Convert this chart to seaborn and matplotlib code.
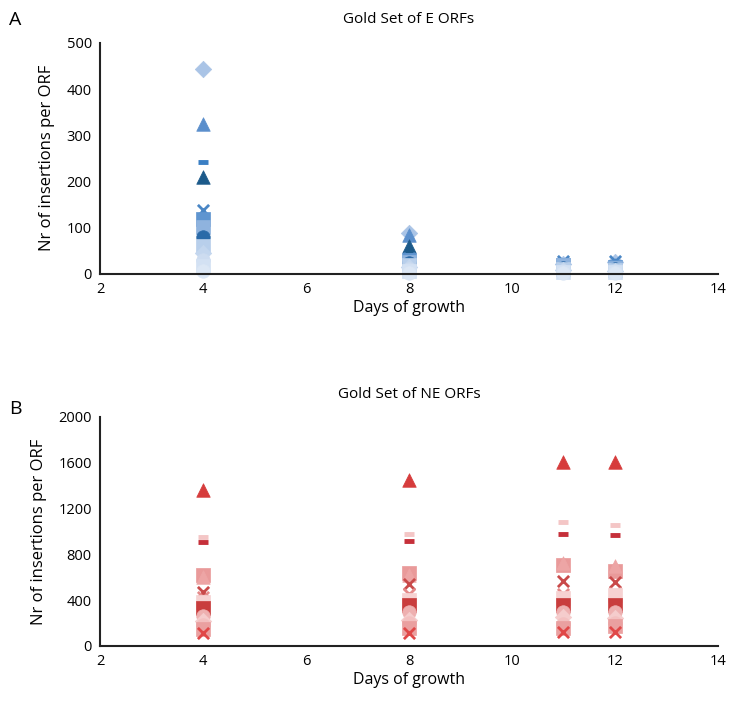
import matplotlib
matplotlib.use("Agg")
import matplotlib.pyplot as plt
import seaborn as sns
import pandas as pd

days = [4, 8, 11, 12]

# Gold set of essential ORFs (panel A): insertions per ORF at each day
e_orfs = ["E1", "E2", "E3", "E4", "E5", "E6", "E7", "E8", "E9", "E10", "E11", "E12", "E13"]
e_values = [
    [444, 88, 22, 25],
    [325, 84, 15, 20],
    [242, 38, 26, 22],
    [210, 60, 10, 8],
    [138, 34, 28, 28],
    [118, 30, 20, 15],
    [102, 26, 18, 12],
    [80, 24, 12, 10],
    [60, 20, 10, 8],
    [45, 14, 8, 6],
    [30, 10, 5, 5],
    [16, 6, 3, 3],
    [5, 2, 2, 2],
]
e_markers = ["D", "^", "_", "^", "x", "s", "s", "o", "s", "D", "o", "s", "o"]
e_colors = ["#aac4e6", "#5b8fcc", "#3a7fc4", "#1c5a8a", "#4a86c5", "#5f95d0", "#8fb3de",
            "#2a6aa8", "#b8cfeb", "#c3d6ee", "#cddcf0", "#d3e1f3", "#dce7f5"]

# Gold set of non-essential ORFs (panel B)
ne_orfs = ["NE1", "NE2", "NE3", "NE4", "NE5", "NE6", "NE7", "NE8", "NE9", "NE10", "NE11", "NE12", "NE13", "NE14"]
ne_values = [
    [1360, 1450, 1610, 1610],
    [950, 975, 1080, 1055],
    [910, 920, 980, 970],
    [620, 640, 710, 650],
    [600, 620, 720, 700],
    [470, 540, 570, 560],
    [430, 450, 450, 460],
    [380, 400, 420, 440],
    [330, 360, 360, 360],
    [260, 300, 300, 300],
    [220, 230, 250, 240],
    [180, 200, 190, 200],
    [150, 160, 160, 170],
    [110, 110, 120, 120],
]
ne_markers = ["^", "_", "_", "s", "^", "x", "x", "s", "s", "o", "D", "o", "s", "x"]
ne_colors = ["#d63c3c", "#f4c6c6", "#c6303a", "#e99a9a", "#eda5a5", "#c94a4a", "#e58a8a",
             "#f6d2d2", "#c93d3d", "#eeb0b0", "#f5cccc", "#f3c0c0", "#eaa0a0", "#e04848"]

sns.set_style("white")
plt.rcParams["font.family"] = ["Open Sans", "DejaVu Sans"]
plt.rcParams["text.color"] = "black"
plt.rcParams["axes.labelcolor"] = "black"
plt.rcParams["xtick.color"] = "black"
plt.rcParams["ytick.color"] = "black"

fig = plt.figure(figsize=(7.31, 7.02), dpi=100)
ax_a = fig.add_axes([0.137, 0.610, 0.845, 0.329])
ax_b = fig.add_axes([0.137, 0.080, 0.845, 0.326])

marker_size = {"D": 70, "^": 95, "s": 95, "o": 95}


def draw_panel(ax, orfs, values, markers, colors):
    for orf, vals, m, c in zip(orfs, values, markers, colors):
        df = pd.DataFrame({"day": days, "count": vals})
        if m == "_":
            sns.scatterplot(data=df, x="day", y="count", ax=ax, marker=m, s=45,
                            color=c, linewidth=3.5, clip_on=False)
        elif m == "x":
            sns.scatterplot(data=df, x="day", y="count", ax=ax, marker=m, s=65,
                            color=c, linewidth=2, clip_on=False)
        else:
            sns.scatterplot(data=df, x="day", y="count", ax=ax, marker=m,
                            s=marker_size[m], color=c, edgecolor=c, linewidth=0.5,
                            clip_on=False)
    ax.set_xlim(2, 14)
    ax.set_xticks(range(2, 15, 2))
    sns.despine(ax=ax)
    for side in ["left", "bottom"]:
        ax.spines[side].set_color("#222222")
        ax.spines[side].set_linewidth(1.5)
    ax.tick_params(axis="both", length=0, labelsize=10.5, pad=6)
    ax.set_xlabel("Days of growth", fontsize=11.5, labelpad=2)
    ax.set_ylabel("Nr of insertions per ORF", fontsize=12, labelpad=8)


draw_panel(ax_a, e_orfs, e_values, e_markers, e_colors)
ax_a.set_ylim(0, 500)
ax_a.set_yticks(range(0, 501, 100))
ax_a.set_title("Gold Set of E ORFs", fontsize=11, pad=14)

draw_panel(ax_b, ne_orfs, ne_values, ne_markers, ne_colors)
ax_b.set_ylim(0, 2000)
ax_b.set_yticks(range(0, 2001, 400))
ax_b.set_title("Gold Set of NE ORFs", fontsize=11, pad=14)

fig.text(0.012, 0.972, "A", fontsize=14, va="center")
fig.text(0.012, 0.418, "B", fontsize=14, va="center")

fig.savefig("out.png", dpi=100)
